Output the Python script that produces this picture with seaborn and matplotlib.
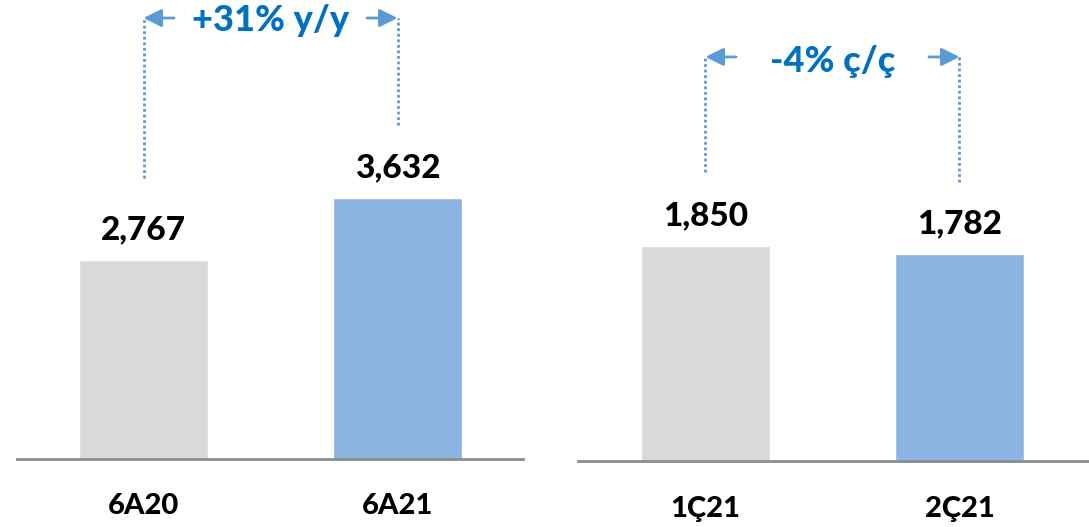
import matplotlib
matplotlib.use("Agg")
import matplotlib.pyplot as plt
import seaborn as sns
import pandas as pd

# ---- data ----
left_categories = ["6A20", "6A21"]
left_values = [2767, 3632]
left_change = "+31% y/y"

right_categories = ["1Ç21", "2Ç21"]
right_values = [1850, 1782]
right_change = "-4% ç/ç"

sns.set_theme(style="white")
plt.rcParams["font.family"] = ["Lato", "DejaVu Sans"]

GRAY = "#D9D9D9"
BLUE = "#8EB4E3"
TXT_BLUE = "#0070C0"
ARROW = "#5B9BD5"
AXIS = "#8C8C8C"
WEIGHT = "black"

W, H = 1089, 527
fig = plt.figure(figsize=(W / 100, H / 100), dpi=100)


def px_axes(x0, x1, ybase):
    return fig.add_axes([x0 / W, (H - ybase) / H, (x1 - x0) / W, ybase / H])


def panel(ax, cats, vals, ylim, xlim, change, arrow_y, dot_bottoms, text_y):
    df = pd.DataFrame({"cat": cats, "val": vals})
    sns.barplot(data=df, x="cat", y="val", hue="cat", palette=[GRAY, BLUE],
                legend=False, width=0.508, ax=ax, saturation=1)
    ax.set_ylim(*ylim)
    ax.set_xlim(*xlim)
    for s in ["top", "right", "left"]:
        ax.spines[s].set_visible(False)
    ax.spines["bottom"].set_color(AXIS)
    ax.spines["bottom"].set_linewidth(2)
    ax.set_yticks([])
    ax.set_xlabel("")
    ax.set_ylabel("")
    ax.tick_params(axis="x", length=0, pad=25)
    for lab in ax.get_xticklabels():
        lab.set_fontsize(21)
        lab.set_fontweight(WEIGHT)
        lab.set_color("black")
    for i, v in enumerate(vals):
        ax.annotate(f"{v:,}", (i, v), xytext=(0, 15), textcoords="offset points",
                    ha="center", va="baseline", fontsize=24, fontweight=WEIGHT,
                    color="black")
    # bracket: dotted verticals + arrows + change text
    for i, yb in enumerate(dot_bottoms):
        ax.plot([i, i], [yb, arrow_y], color=ARROW, lw=2,
                linestyle=(0, (1, 1)), clip_on=False)
    off = 0.12
    style = "-|>,head_length=0.9,head_width=0.45"
    ax.annotate("", xy=(0, arrow_y), xytext=(off, arrow_y),
                arrowprops=dict(arrowstyle=style, color=ARROW, lw=2,
                                shrinkA=0, shrinkB=0),
                annotation_clip=False)
    ax.annotate("", xy=(1, arrow_y), xytext=(1 - off, arrow_y),
                arrowprops=dict(arrowstyle=style, color=ARROW, lw=2,
                                shrinkA=0, shrinkB=0),
                annotation_clip=False)
    ax.text(0.5, text_y, change, ha="center", va="baseline", fontsize=26,
            fontweight=WEIGHT, color=TXT_BLUE, clip_on=False)


axL = px_axes(17, 523, 458.5)
panel(axL, left_categories, left_values, (0, 6386), (-0.498, 1.494),
      left_change, 6135, [3907, 4645], 5954)

axR = px_axes(578, 1089, 461)
panel(axR, right_categories, right_values, (0, 3967), (-0.502, 1.510),
      right_change, 3477, [2487, 2401], 3348)

fig.savefig("out.png", dpi=100)
